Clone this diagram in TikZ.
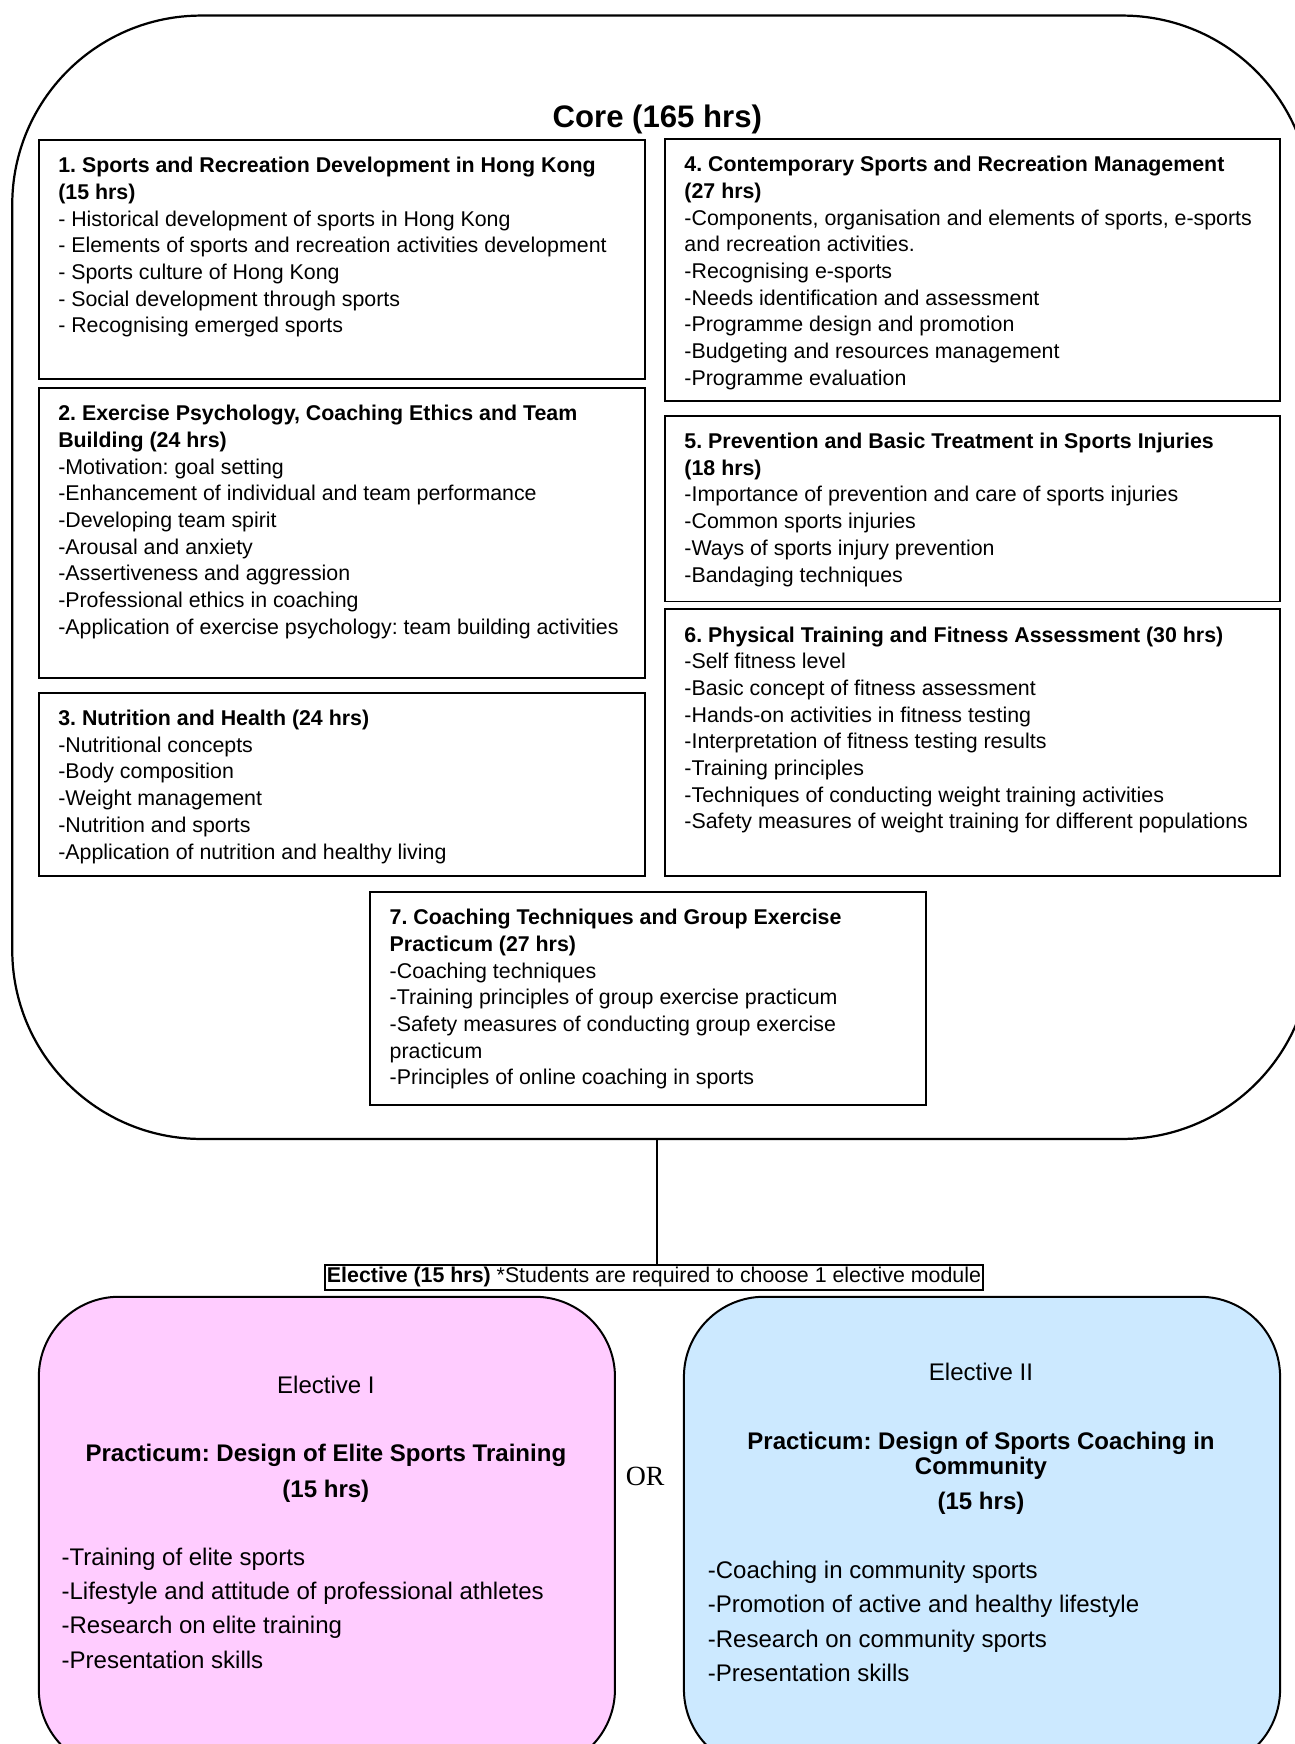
\documentclass[tikz,border=0pt]{standalone}
\usepackage{fontspec}
\setmainfont{Liberation Sans}
\newfontfamily\orfont{Liberation Serif}
\usepackage{tikz}
\usetikzlibrary{positioning,calc}
\definecolor{elpink}{RGB}{255,204,255}
\definecolor{elblue}{RGB}{204,233,255}
\tikzset{modbox/.style={draw, line width=0.8pt, rectangle, anchor=north west, inner sep=0pt}}
\tikzset{modtext/.style={anchor=north west, align=left, inner sep=0pt, font=\fontsize{9.6}{12}\selectfont}}
\tikzstyle{elbox}=[draw, line width=0.9pt, rectangle, rounded corners=36pt, anchor=north west, inner sep=0pt]
\tikzstyle{eltext}=[inner sep=0pt, font=\fontsize{10.8}{15.5}\selectfont]

\begin{document}
\frenchspacing
\begin{tikzpicture}[x=0.5pt, y=-0.5pt]
\useasboundingbox (0,0) rectangle (1164,1568);

\node[draw, line width=1pt, rounded corners=85pt, anchor=north west, minimum width=584pt, minimum height=505pt] (core) at (10,13) {};
\node[font=\bfseries\fontsize{14}{16}\selectfont, inner sep=0pt] (coretitle) at (591,107) {Core (165 hrs)};

\node[modbox, minimum width=272.5pt, minimum height=107.5pt] (m1) at (34,125) {};
\node[modbox, minimum width=272.5pt, minimum height=130.5pt] (m2) at (34,348) {};
\node[modbox, minimum width=272.5pt, minimum height=82.5pt] (m3) at (34,622) {};
\node[modbox, minimum width=276.5pt, minimum height=118pt] (m4) at (597,124) {};
\node[modbox, minimum width=276.5pt, minimum height=83.5pt] (m5) at (597,373) {};
\node[modbox, minimum width=276.5pt, minimum height=120pt] (m6) at (597,547) {};
\node[modbox, minimum width=250pt, minimum height=96pt] (m7) at (332,801) {};

\node[modtext] (t1) at ([shift={(18,16)}]m1.north west) {\textbf{1. Sports and Recreation Development in Hong Kong}\\
\textbf{(15 hrs)}\\
- Historical development of sports in Hong Kong\\
- Elements of sports and recreation activities development\\
- Sports culture of Hong Kong\\
- Social development through sports\\
- Recognising emerged sports};
\node[modtext] (t2) at ([shift={(18,16)}]m2.north west) {\textbf{2. Exercise Psychology, Coaching Ethics and Team}\\
\textbf{Building (24 hrs)}\\
-Motivation: goal setting\\
-Enhancement of individual and team performance\\
-Developing team spirit\\
-Arousal and anxiety\\
-Assertiveness and aggression\\
-Professional ethics in coaching\\
-Application of exercise psychology: team building activities};
\node[modtext] (t3) at ([shift={(18,16)}]m3.north west) {\textbf{3. Nutrition and Health (24 hrs)}\\
-Nutritional concepts\\
-Body composition\\
-Weight management\\
-Nutrition and sports\\
-Application of nutrition and healthy living};
\node[modtext] (t4) at ([shift={(18,16)}]m4.north west) {\textbf{4. Contemporary Sports and Recreation Management}\\
\textbf{(27 hrs)}\\
-Components, organisation and elements of sports, e-sports\\
and recreation activities.\\
-Recognising e-sports\\
-Needs identification and assessment\\
-Programme design and promotion\\
-Budgeting and resources management\\
-Programme evaluation};
\node[modtext] (t5) at ([shift={(18,16)}]m5.north west) {\textbf{5. Prevention and Basic Treatment in Sports Injuries}\\
\textbf{(18 hrs)}\\
-Importance of prevention and care of sports injuries\\
-Common sports injuries\\
-Ways of sports injury prevention\\
-Bandaging techniques};
\node[modtext] (t6) at ([shift={(18,16)}]m6.north west) {\textbf{6. Physical Training and Fitness Assessment (30 hrs)}\\
-Self fitness level\\
-Basic concept of fitness assessment\\
-Hands-on activities in fitness testing\\
-Interpretation of fitness testing results\\
-Training principles\\
-Techniques of conducting weight training activities\\
-Safety measures of weight training for different populations};
\node[modtext] (t7) at ([shift={(18,16)}]m7.north west) {\textbf{7. Coaching Techniques and Group Exercise}\\
\textbf{Practicum (27 hrs)}\\
-Coaching techniques\\
-Training principles of group exercise practicum\\
-Safety measures of conducting group exercise\\
practicum\\
-Principles of online coaching in sports};

% electives
\node[draw, line width=0.8pt, inner xsep=1pt, inner ysep=0pt, minimum height=11.5pt, font=\fontsize{9.6}{12}\selectfont] (elec) at (588,1148.5) {\textbf{Elective (15 hrs)} *Students are required to choose 1 elective module};
\coordinate (link) at (591,1137);
\draw[line width=0.9pt] (core.south -| link) -- (link);

\node[elbox, fill=elpink, minimum width=259pt, minimum height=212.5pt] (el1) at (34,1165) {};
\node[elbox, fill=elblue, minimum width=268pt, minimum height=212.5pt] (el2) at (614,1165) {};

\node[eltext] (el1head) at (293,1245) {Elective I};
\node[eltext, anchor=north, align=center, font=\bfseries\fontsize{10.8}{16}\selectfont] (el1title) at (293,1298) {Practicum: Design of Elite Sports Training\\(15 hrs)};
\node[eltext, anchor=north west, align=left] (el1items) at (55,1391) {-Training of elite sports\\
-Lifestyle and attitude of professional athletes\\
-Research on elite training\\
-Presentation skills};

\node[eltext] (el2head) at (882,1233) {Elective II};
\node[eltext, anchor=north, align=center, font=\bfseries\fontsize{10.8}{11.5}\selectfont] (el2title) at (882,1287) {Practicum: Design of Sports Coaching in\\Community\\[4pt](15 hrs)};
\node[eltext, anchor=north west, align=left] (el2items) at (636,1403) {-Coaching in community sports\\
-Promotion of active and healthy lifestyle\\
-Research on community sports\\
-Presentation skills};

\node[inner sep=0pt, font=\orfont\fontsize{12.5}{14}\selectfont] (or) at (580,1327) {OR};
\end{tikzpicture}
\end{document}
